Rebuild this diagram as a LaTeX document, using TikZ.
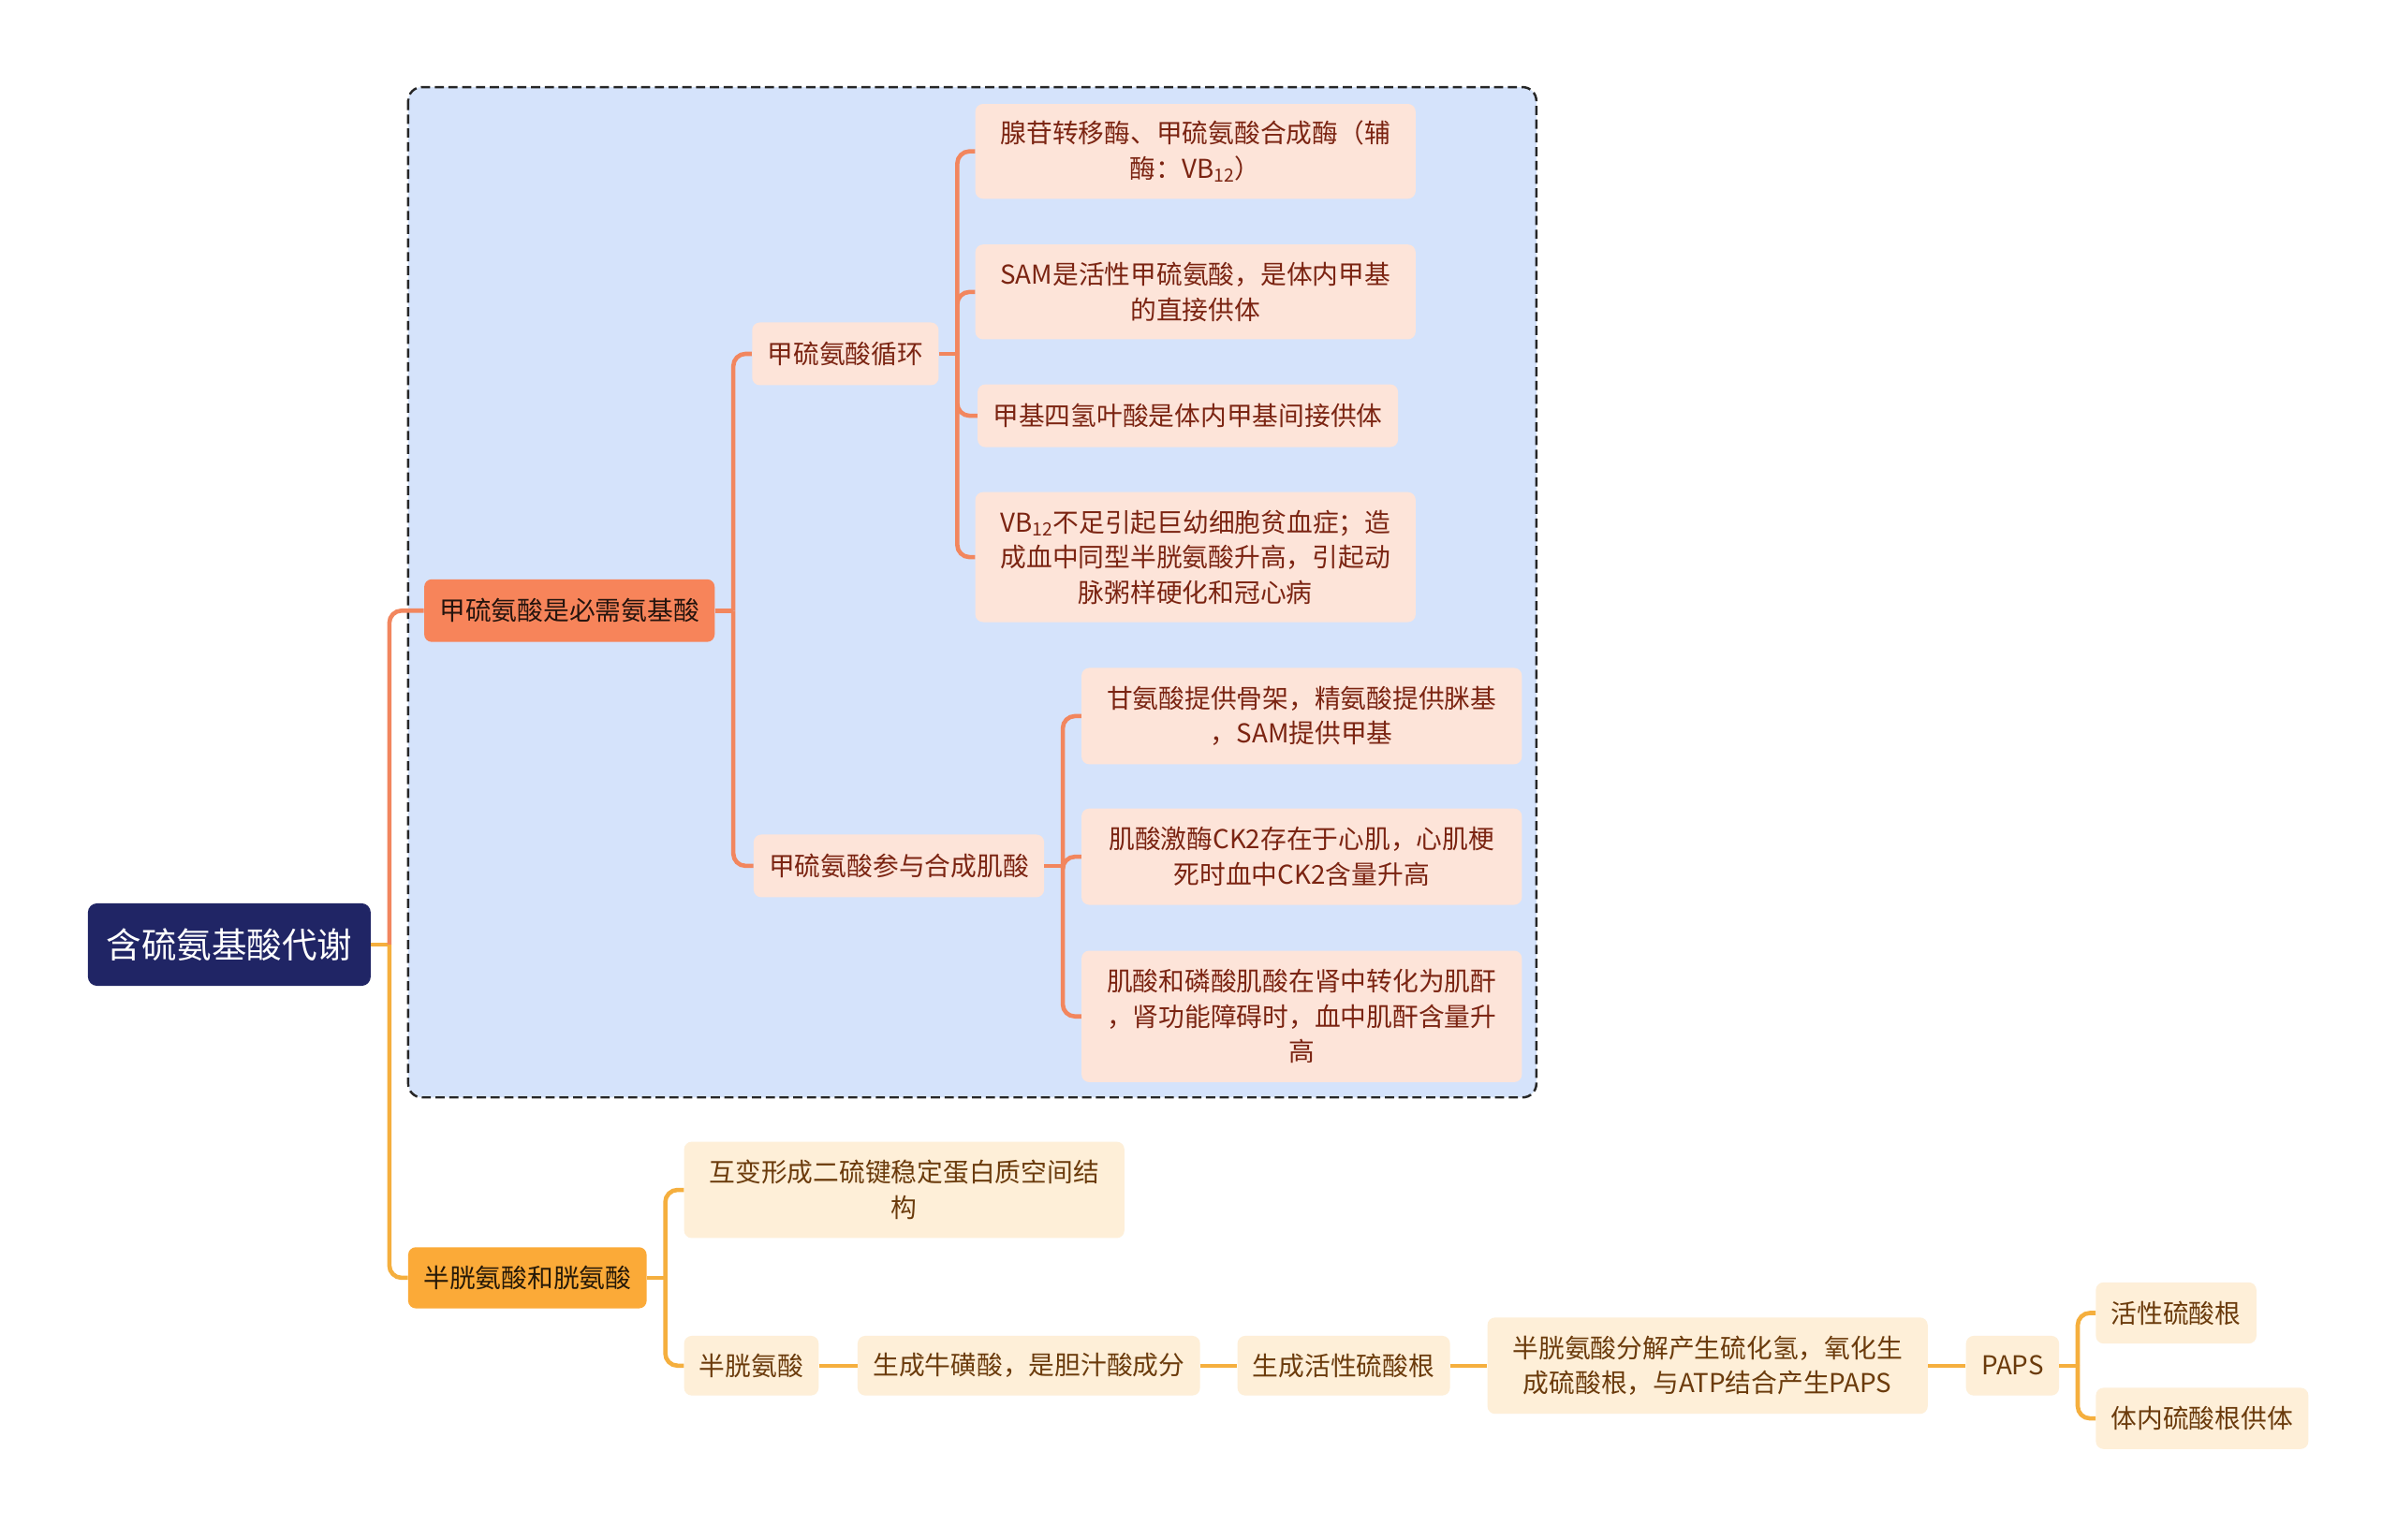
\documentclass[tikz,border=0pt]{standalone}
\usepackage{fontspec}
\usepackage{xcolor}
\usepackage{tikz}
\setmainfont{Noto Sans CJK SC}

\definecolor{rootblue}{HTML}{202565}
\definecolor{areablue}{HTML}{D5E3FB}
\definecolor{metfill}{HTML}{F7845A}
\definecolor{metline}{HTML}{F2865E}
\definecolor{metleaf}{HTML}{FDE4D9}
\definecolor{mettext}{HTML}{7B2412}
\definecolor{cysfill}{HTML}{FBAA38}
\definecolor{cysline}{HTML}{F5AF3E}
\definecolor{cysleaf}{HTML}{FEEFD8}
\definecolor{cystext}{HTML}{6B3B0C}

\tikzset{
  rootbox/.style={fill=rootblue, text=white, rounded corners=6pt, inner xsep=12pt,
    minimum height=54pt, font=\fontsize{23}{28}\selectfont},
  metmain/.style={fill=metfill, text=black!85!metfill, rounded corners=5pt, inner xsep=10pt,
    minimum height=41pt, font=\fontsize{17}{23}\selectfont},
  metbox/.style={fill=metleaf, text=mettext, rounded corners=5pt, inner xsep=10pt,
    minimum height=41pt, align=center, font=\fontsize{17}{23}\selectfont},
  cysmain/.style={fill=cysfill, text=black!85!cysfill, rounded corners=5pt, inner xsep=10pt,
    minimum height=40pt, font=\fontsize{17}{23}\selectfont},
  cysbox/.style={fill=cysleaf, text=cystext, rounded corners=5pt, inner xsep=10pt,
    minimum height=40pt, align=center, font=\fontsize{17}{23}\selectfont},
  wide/.style={text width=268pt},
  metlink/.style={draw=metline, line width=2.8pt, rounded corners=8pt},
  cyslink/.style={draw=cysline, line width=2.8pt, rounded corners=8pt}
}

\begin{document}
\begin{tikzpicture}[x=1pt,y=-1pt]
  \useasboundingbox (0,0) rectangle (1568,1007);
  \fill[white] (0,0) rectangle (1568,1007);

  % blue frame round the methionine branch
  \draw[fill=areablue, draw=black!85, line width=1.5pt, dash pattern=on 6pt off 3pt,
    rounded corners=9pt] (267,57) rectangle (1005,718);

  % root
  \node[rootbox] (root) at (150,618) {含硫氨基酸代谢};

  % methionine branch
  \node[metmain] (met) at (372.5,399.5) {甲硫氨酸是必需氨基酸};
  \node[metbox] (cycle) at (553,231.5) {甲硫氨酸循环};
  \node[metbox] (creat) at (588,566.5) {甲硫氨酸参与合成肌酸};

  \node[metbox,wide,minimum height=62pt] (enzyme) at (782,99)
    {腺苷转移酶、甲硫氨酸合成酶（辅\\酶：VB\textsubscript{12}）};
  \node[metbox,wide,minimum height=62pt] (sam) at (782,191)
    {SAM是活性甲硫氨酸，是体内甲基\\的直接供体};
  \node[metbox] (thf) at (777,272) {甲基四氢叶酸是体内甲基间接供体};
  \node[metbox,wide,minimum height=85pt] (vbdef) at (782,364.5)
    {VB\textsubscript{12}不足引起巨幼细胞贫血症；造\\成血中同型半胱氨酸升高，引起动\\脉粥样硬化和冠心病};

  \node[metbox,wide,minimum height=63pt] (glycine) at (851.5,468.5)
    {甘氨酸提供骨架，精氨酸提供脒基\\，SAM提供甲基};
  \node[metbox,wide,minimum height=63pt] (ckinase) at (851.5,560.5)
    {肌酸激酶CK2存在于心肌，心肌梗\\死时血中CK2含量升高};
  \node[metbox,wide,minimum height=86pt] (creatinine) at (851.5,665)
    {肌酸和磷酸肌酸在肾中转化为肌酐\\，肾功能障碍时，血中肌酐含量升\\高};

  % cysteine branch
  \node[cysmain] (cys) at (345,836) {半胱氨酸和胱氨酸};
  \node[cysbox,wide,minimum height=63pt] (disulf) at (591.5,778.5)
    {互变形成二硫键稳定蛋白质空间结\\构};
  \node[cysbox,minimum height=39pt] (cyst) at (491.5,893.5) {半胱氨酸};
  \node[cysbox,minimum height=39pt] (taurine) at (673,893.5) {生成牛磺酸，是胆汁酸成分};
  \node[cysbox,minimum height=39pt] (sulfate) at (879,893.5) {生成活性硫酸根};
  \node[cysbox,wide,minimum height=63pt] (hydro) at (1117,893.5)
    {半胱氨酸分解产生硫化氢，氧化生\\成硫酸根，与ATP结合产生PAPS};
  \node[cysbox,minimum height=39pt] (paps) at (1316.5,893.5) {PAPS};
  \node[cysbox] (active) at (1423.5,859) {活性硫酸根};
  \node[cysbox] (donor) at (1440.5,928) {体内硫酸根供体};

  % connectors
  \draw[cyslink] (root.east) -- ++(12,0);
  \draw[cyslink] (root.east) ++(12,0) |- (cys.west);
  \draw[metlink] (root.east) ++(12,0) |- (met.west);

  \draw[metlink] (met.east) -- ++(12,0);
  \draw[metlink] (met.east) ++(12,0) |- (cycle.west);
  \draw[metlink] (met.east) ++(12,0) |- (creat.west);

  \draw[metlink] (cycle.east) -- ++(12,0);
  \draw[metlink] (cycle.east) ++(12,0) |- (enzyme.west);
  \draw[metlink] (cycle.east) ++(12,0) |- (sam.west);
  \draw[metlink] (cycle.east) ++(12,0) |- (thf.west);
  \draw[metlink] (cycle.east) ++(12,0) |- (vbdef.west);

  \draw[metlink] (creat.east) -- ++(12,0);
  \draw[metlink] (creat.east) ++(12,0) |- (glycine.west);
  \draw[metlink] (creat.east) ++(12,0) |- (ckinase.west);
  \draw[metlink] (creat.east) ++(12,0) |- (creatinine.west);

  \draw[cyslink] (cys.east) -- ++(12,0);
  \draw[cyslink] (cys.east) ++(12,0) |- (disulf.west);
  \draw[cyslink] (cys.east) ++(12,0) |- (cyst.west);

  \draw[cyslink] (cyst) -- (taurine);
  \draw[cyslink] (taurine) -- (sulfate);
  \draw[cyslink] (sulfate) -- (hydro);
  \draw[cyslink] (hydro) -- (paps);

  \draw[cyslink] (paps.east) -- ++(12,0);
  \draw[cyslink] (paps.east) ++(12,0) |- (active.west);
  \draw[cyslink] (paps.east) ++(12,0) |- (donor.west);
\end{tikzpicture}
\end{document}
